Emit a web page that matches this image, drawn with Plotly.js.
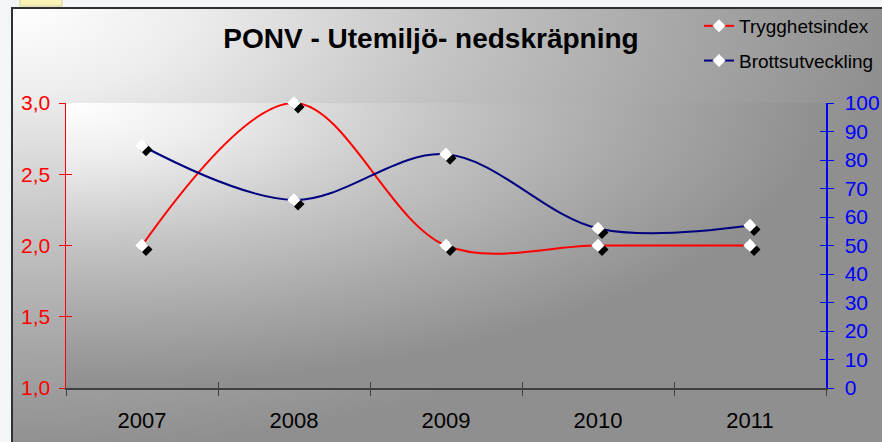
<!DOCTYPE html>
<html>
<head>
<meta charset="utf-8">
<script src="https://cdn.plot.ly/plotly-3.0.1.min.js"></script>
<style>
  html, body { margin: 0; padding: 0; background: #f2f6f6; }
  #chart { width: 882px; height: 442px; }
</style>
</head>
<body>
<div id="chart"></div>
<script>
// ---- data ----
const years = ['2007', '2008', '2009', '2010', '2011'];
const trygghetsindex = [2.0, 3.0, 2.0, 2.0, 2.0];
const brottsutveckling = [85, 66, 82, 56, 57];
const leftTicks = [1.0, 1.5, 2.0, 2.5, 3.0];
const rightTicks = [0, 10, 20, 30, 40, 50, 60, 70, 80, 90, 100];
const titleText = 'PONV - Utemiljö- nedskräpning';
const seriesNames = ['Trygghetsindex', 'Brottsutveckling'];

// ---- layout constants ----
const W = 882, H = 442;
const L = 66, R = 826, T = 103, B = 388;
const pw = R - L, ph = B - T;
const FONT = 'Liberation Sans, Arial, sans-serif';
const SH = 4; // shadow offset in px

const leftRange = [1, 3];
const rightRange = [0, 100];
const xRange = [-0.5, years.length - 0.5];
const xUnit = pw / (xRange[1] - xRange[0]);
const lUnit = ph / (leftRange[1] - leftRange[0]);
const rUnit = ph / (rightRange[1] - rightRange[0]);

function px2x(p) { return (p - L) / pw; }
function px2y(p) { return (B - p) / ph; }

function gradSvg() {
  const svg = "<svg xmlns='http://www.w3.org/2000/svg' width='400' height='200' preserveAspectRatio='none' viewBox='0 0 400 200'>" +
    "<defs><radialGradient id='g' cx='0' cy='0' r='1' gradientUnits='objectBoundingBox'>" +
    "<stop offset='0' stop-color='#ffffff'/>" +
    "<stop offset='0.2' stop-color='#ededed'/>" +
    "<stop offset='0.5' stop-color='#c4c4c4'/>" +
    "<stop offset='0.75' stop-color='#a8a8a8'/>" +
    "<stop offset='1' stop-color='#8f8f8f'/>" +
    "</radialGradient></defs><rect width='400' height='200' fill='url(#g)'/></svg>";
  return 'data:image/svg+xml;charset=utf-8,' + encodeURIComponent(svg);
}

const lineRed = { color: '#ff0000', width: 2, shape: 'spline', smoothing: 1 };
const lineBlue = { color: '#000080', width: 2, shape: 'spline', smoothing: 1 };
const whiteDiamond = { symbol: 'diamond', size: 10, color: '#ffffff', line: { width: 0 } };
const blackDiamond = { symbol: 'diamond', size: 10, color: '#000000', line: { width: 0 } };

const traces = [
  { // main series (lines + markers) on the visible axes
    x: years, y: trygghetsindex, xaxis: 'x', yaxis: 'y', type: 'scatter', mode: 'lines+markers',
    name: seriesNames[0], legendgroup: 'a', line: lineRed, marker: whiteDiamond, cliponaxis: false
  },
  {
    x: years, y: brottsutveckling, xaxis: 'x', yaxis: 'y2', type: 'scatter', mode: 'lines+markers',
    name: seriesNames[1], legendgroup: 'b', line: lineBlue, marker: whiteDiamond, cliponaxis: false
  },
  { // marker shadows (shifted axes)
    x: years, y: trygghetsindex, xaxis: 'x2', yaxis: 'y3', type: 'scatter', mode: 'markers',
    marker: blackDiamond, showlegend: false, hoverinfo: 'skip', cliponaxis: false
  },
  {
    x: years, y: brottsutveckling, xaxis: 'x2', yaxis: 'y4', type: 'scatter', mode: 'markers',
    marker: blackDiamond, showlegend: false, hoverinfo: 'skip', cliponaxis: false
  },
  { // white markers on top of shadows
    x: years, y: trygghetsindex, xaxis: 'x3', yaxis: 'y5', type: 'scatter', mode: 'markers',
    marker: whiteDiamond, showlegend: false, hoverinfo: 'skip', cliponaxis: false
  },
  {
    x: years, y: brottsutveckling, xaxis: 'x3', yaxis: 'y6', type: 'scatter', mode: 'markers',
    marker: whiteDiamond, showlegend: false, hoverinfo: 'skip', cliponaxis: false
  }
];

const hidden = { visible: false, showgrid: false, zeroline: false, fixedrange: true };

const layout = {
  width: W, height: H,
  margin: { l: L, r: W - R, t: T, b: H - B, pad: 0, autoexpand: false },
  paper_bgcolor: '#f2f6f6',
  plot_bgcolor: 'rgba(0,0,0,0)',
  separators: ',.',
  font: { family: FONT, size: 20, color: '#000000' },
  showlegend: true,
  title: {
    text: '<b>' + titleText + '</b>',
    font: { family: FONT, size: 28, color: '#000000' },
    x: 431 / W, xref: 'container', xanchor: 'center',
    y: 1 - 38 / H, yref: 'container', yanchor: 'middle'
  },
  legend: {
    x: px2x(699), y: px2y(7), xanchor: 'left', yanchor: 'top',
    bgcolor: 'rgba(0,0,0,0)', borderwidth: 0,
    font: { family: FONT, size: 19, color: '#000000' },
    traceorder: 'grouped', tracegroupgap: 7
  },
  xaxis: {
    type: 'category', range: xRange, domain: [0, 1], anchor: 'y',
    tickson: 'boundaries', ticks: 'outside', ticklen: 6, tickwidth: 1, tickcolor: '#404040',
    showline: true, linecolor: '#404040', linewidth: 2, showgrid: false, zeroline: false,
    tickfont: { family: FONT, size: 22, color: '#000000' }, ticklabelstandoff: 12
  },
  xaxis2: Object.assign({ type: 'category', overlaying: 'x', anchor: 'y',
    range: [xRange[0] - SH / xUnit, xRange[1] - SH / xUnit] }, hidden),
  xaxis3: {
    type: 'category', overlaying: 'x', anchor: 'y', range: xRange,
    tickson: 'boundaries', ticks: 'inside', ticklen: 6, tickwidth: 1, tickcolor: '#404040',
    showticklabels: false, showline: false, showgrid: false, zeroline: false
  },
  yaxis: {
    range: leftRange, domain: [0, 1], anchor: 'x', side: 'left',
    tickmode: 'array', tickvals: leftTicks, tickformat: '.1f',
    ticks: 'outside', ticklen: 6, tickwidth: 1, tickcolor: '#ff0000',
    showline: true, linecolor: '#ff0000', linewidth: 1.5, showgrid: false, zeroline: false,
    tickfont: { family: FONT, size: 21, color: '#ff0000' }, ticklabelstandoff: 4
  },
  yaxis2: {
    range: rightRange, overlaying: 'y', anchor: 'x', side: 'right',
    tickmode: 'array', tickvals: rightTicks,
    ticks: 'outside', ticklen: 6, tickwidth: 1, tickcolor: '#0000ff',
    showline: true, linecolor: '#0000ff', linewidth: 1.5, showgrid: false, zeroline: false,
    tickfont: { family: FONT, size: 21, color: '#0000ff' }, ticklabelstandoff: 7
  },
  yaxis3: Object.assign({ overlaying: 'y', anchor: 'x',
    range: [leftRange[0] + SH / lUnit, leftRange[1] + SH / lUnit] }, hidden),
  yaxis4: Object.assign({ overlaying: 'y', anchor: 'x',
    range: [rightRange[0] + SH / rUnit, rightRange[1] + SH / rUnit] }, hidden),
  yaxis5: {
    range: leftRange, overlaying: 'y', anchor: 'x', side: 'left',
    tickmode: 'array', tickvals: leftTicks, ticks: 'inside', ticklen: 6, tickwidth: 1,
    tickcolor: '#ff0000', showticklabels: false, showline: false, showgrid: false, zeroline: false
  },
  yaxis6: {
    range: rightRange, overlaying: 'y', anchor: 'x', side: 'right',
    tickmode: 'array', tickvals: rightTicks, ticks: 'inside', ticklen: 6, tickwidth: 1,
    tickcolor: '#0000ff', showticklabels: false, showline: false, showgrid: false, zeroline: false
  },
  images: [
    { source: gradSvg(), xref: 'paper', yref: 'paper', x: px2x(11), y: px2y(7),
      sizex: (W + 10 - 11) / pw, sizey: (H + 10 - 7) / ph, sizing: 'stretch',
      xanchor: 'left', yanchor: 'top', layer: 'below' },
    { source: gradSvg(), xref: 'paper', yref: 'paper', x: 0, y: 1,
      sizex: 1, sizey: 1, sizing: 'stretch', xanchor: 'left', yanchor: 'top', layer: 'below' }
  ],
  shapes: [
    { type: 'rect', xref: 'paper', yref: 'paper', x0: px2x(12), y0: px2y(H + 20), x1: px2x(W + 20), y1: px2y(8),
      line: { color: '#303030', width: 2 }, fillcolor: 'rgba(0,0,0,0)', layer: 'above' },
    { type: 'rect', xref: 'paper', yref: 'paper', x0: px2x(20), y0: px2y(6), x1: px2x(62), y1: px2y(-2),
      line: { color: '#d8cf88', width: 1 }, fillcolor: '#faf3b8', layer: 'above' }
  ]
};

Plotly.newPlot('chart', traces, layout, { displayModeBar: false, staticPlot: true });
</script>
</body>
</html>
